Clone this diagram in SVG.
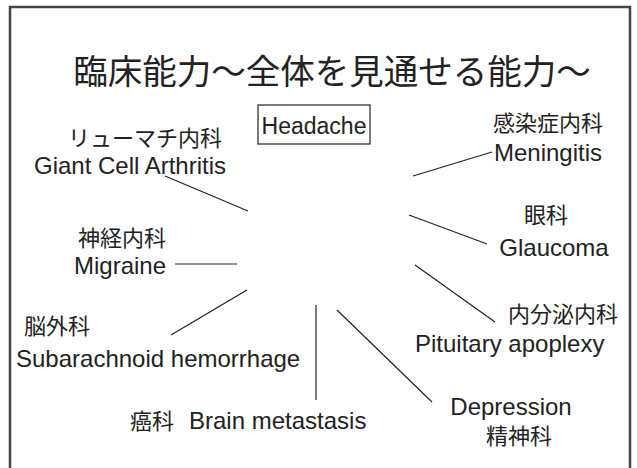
<svg xmlns="http://www.w3.org/2000/svg" width="637" height="468" viewBox="0 0 637 468">
<style>
text{font-family:"Liberation Sans","Noto Sans CJK JP",Arial,sans-serif;fill:#222;}
.jp{font-size:22px;}
.en{font-size:24px;}
.c line{stroke:#222;stroke-width:1.2;}
</style>
<rect x="0" y="0" width="637" height="468" fill="#fff"/>
<rect x="10" y="7" width="620" height="470" fill="none" stroke="#444" stroke-width="2.5"/>
<text x="332" y="84" text-anchor="middle" font-size="34.5">臨床能力～全体を見通せる能力～</text>
<g id="headache"><rect x="258" y="105" width="112" height="39" fill="none" stroke="#333" stroke-width="1.3"/><text x="314" y="134" text-anchor="middle" font-size="23">Headache</text></g>
<g id="gca"><text class="jp" x="145" y="146" text-anchor="middle">リューマチ内科</text><text class="en" x="130" y="174" text-anchor="middle">Giant Cell Arthritis</text></g>
<g id="migraine"><text class="jp" x="122" y="246" text-anchor="middle">神経内科</text><text class="en" x="74" y="274">Migraine</text></g>
<g id="sah"><text class="jp" x="57" y="334" text-anchor="middle">脳外科</text><text class="en" x="16" y="367">Subarachnoid hemorrhage</text></g>
<g id="meta"><text class="jp" x="130" y="429">癌科</text><text class="en" x="189" y="429">Brain metastasis</text></g>
<g id="depression"><text class="en" x="511" y="415" text-anchor="middle">Depression</text><text class="jp" x="519" y="444" text-anchor="middle">精神科</text></g>
<g id="pituitary"><text class="jp" x="563" y="322" text-anchor="middle">内分泌内科</text><text class="en" x="415" y="352">Pituitary apoplexy</text></g>
<g id="glaucoma"><text class="jp" x="546" y="223" text-anchor="middle">眼科</text><text class="en" x="554" y="256" text-anchor="middle">Glaucoma</text></g>
<g id="meningitis"><text class="jp" x="548" y="131" text-anchor="middle">感染症内科</text><text class="en" x="494" y="161">Meningitis</text></g>
<g class="c" id="connectors">
<line x1="165" y1="176" x2="248" y2="211"/>
<line x1="175" y1="264" x2="237" y2="264"/>
<line x1="171" y1="335" x2="247" y2="290"/>
<line x1="316" y1="305" x2="316" y2="400"/>
<line x1="337" y1="310" x2="432" y2="402"/>
<line x1="415" y1="265" x2="495" y2="322"/>
<line x1="409" y1="215" x2="487" y2="244"/>
<line x1="413" y1="176" x2="492" y2="152"/>
</g>
</svg>
